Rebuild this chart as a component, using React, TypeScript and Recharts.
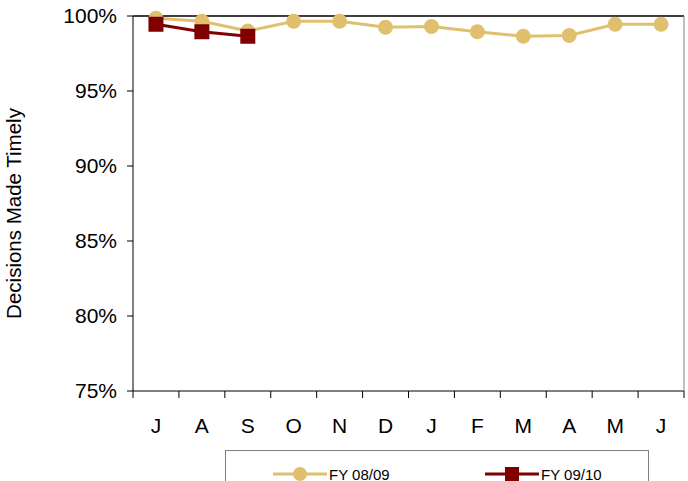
import {
  LineChart, Line, XAxis, YAxis, Legend, ReferenceLine,
} from 'recharts';

const MONTHS = ['J', 'A', 'S', 'O', 'N', 'D', 'J', 'F', 'M', 'A', 'M', 'J'];
const FY_0809 = [99.85, 99.65, 99.0, 99.65, 99.65, 99.25, 99.3, 98.95, 98.65, 98.7, 99.45, 99.45];
const FY_0910 = [99.45, 98.95, 98.65];
const Y_TICKS = [75, 80, 85, 90, 95, 100];
const BOUNDARY_TICKS = [0, 1, 2, 3, 4, 5, 6, 7, 8, 9, 10, 11, 12];

const SERIES = [
  { key: 'fy0809', name: 'FY 08/09', color: '#E0C06E', shape: 'circle' },
  { key: 'fy0910', name: 'FY 09/10', color: '#800000', shape: 'square' },
];

const FONT = '"Liberation Sans", Arial, sans-serif';

const data = MONTHS.map((m, i) => ({
  x: i + 0.5,
  month: m,
  fy0809: FY_0809[i],
  fy0910: i < FY_0910.length ? FY_0910[i] : null,
}));

const labelTicks = MONTHS.map((_, i) => i + 0.5);

function SquareDot(props: any) {
  const { cx, cy, fill } = props;
  if (cx == null || cy == null) return null;
  return <rect x={cx - 7.5} y={cy - 7.5} width={15} height={15} fill={fill} />;
}

function LegendBox() {
  return (
    <div
      style={{
        position: 'relative',
        height: 31,
        boxSizing: 'border-box',
        border: '1px solid #808080',
        borderBottom: 'none',
        fontFamily: FONT,
        fontSize: 15,
        lineHeight: '15px',
        color: '#000',
      }}
    >
      {SERIES.map((s, i) => (
        <div
          key={s.key}
          style={{
            position: 'absolute',
            left: i === 0 ? 47 : 259,
            top: 15,
            display: 'flex',
            alignItems: 'center',
          }}
        >
          <svg width={54} height={16}>
            <line x1={0} y1={8} x2={54} y2={8} stroke={s.color} strokeWidth={3} />
            {s.shape === 'circle'
              ? <circle cx={27} cy={8} r={7} fill={s.color} />
              : <rect x={20} y={1} width={14} height={14} fill={s.color} />}
          </svg>
          <span style={{ marginLeft: 2 }}>{s.name}</span>
        </div>
      ))}
    </div>
  );
}

export default function App() {
  return (
    <div style={{ position: 'absolute', left: 0, top: 0, background: '#fff' }}>
      <LineChart
        width={688}
        height={481}
        data={data}
        margin={{ top: 16, right: 2, left: 0, bottom: 0 }}
      >
        <XAxis
          xAxisId="b"
          type="number"
          dataKey="x"
          domain={[0, 12]}
          ticks={BOUNDARY_TICKS}
          tick={() => <g />}
          tickSize={7}
          tickLine={{ stroke: '#000' }}
          axisLine={{ stroke: '#000' }}
          interval={0}
          height={1}
        />
        <XAxis
          xAxisId="lab"
          type="number"
          dataKey="x"
          domain={[0, 12]}
          ticks={labelTicks}
          tickFormatter={(v: number) => MONTHS[Math.floor(v)]}
          axisLine={false}
          tickLine={false}
          tickMargin={20}
          height={58}
          interval={0}
          tick={{ fill: '#000', fontSize: 21, fontFamily: FONT }}
        />
        <YAxis
          yAxisId="l"
          domain={[75, 100]}
          ticks={Y_TICKS}
          tickFormatter={(v: number) => `${v}%`}
          width={133}
          tickSize={6}
          tickMargin={10}
          axisLine={{ stroke: '#000' }}
          tickLine={{ stroke: '#000' }}
          tick={{ fill: '#000', fontSize: 21, fontFamily: FONT }}
          label={{
            value: 'Decisions Made Timely',
            angle: -90,
            position: 'insideLeft',
            offset: 14,
            dy: 10,
            style: { textAnchor: 'middle', fill: '#000', fontSize: 20.5, fontFamily: FONT },
          }}
        />
        <YAxis
          yAxisId="r"
          orientation="right"
          domain={[75, 100]}
          tick={false}
          tickLine={false}
          width={2}
          axisLine={{ stroke: '#808080' }}
        />
        <ReferenceLine xAxisId="lab" yAxisId="l" y={100} stroke="#000" strokeWidth={1.5} />
        <Legend
          verticalAlign="bottom"
          content={() => <LegendBox />}
          wrapperStyle={{ left: 225, width: 424, height: 31 }}
        />
        <Line
          xAxisId="lab"
          yAxisId="l"
          dataKey="fy0809"
          name="FY 08/09"
          stroke={SERIES[0].color}
          strokeWidth={3}
          dot={{ r: 7.5, fill: SERIES[0].color, stroke: 'none' }}
          isAnimationActive={false}
        />
        <Line
          xAxisId="lab"
          yAxisId="l"
          dataKey="fy0910"
          name="FY 09/10"
          stroke={SERIES[1].color}
          strokeWidth={3}
          dot={<SquareDot fill={SERIES[1].color} />}
          connectNulls={false}
          isAnimationActive={false}
        />
      </LineChart>
    </div>
  );
}
